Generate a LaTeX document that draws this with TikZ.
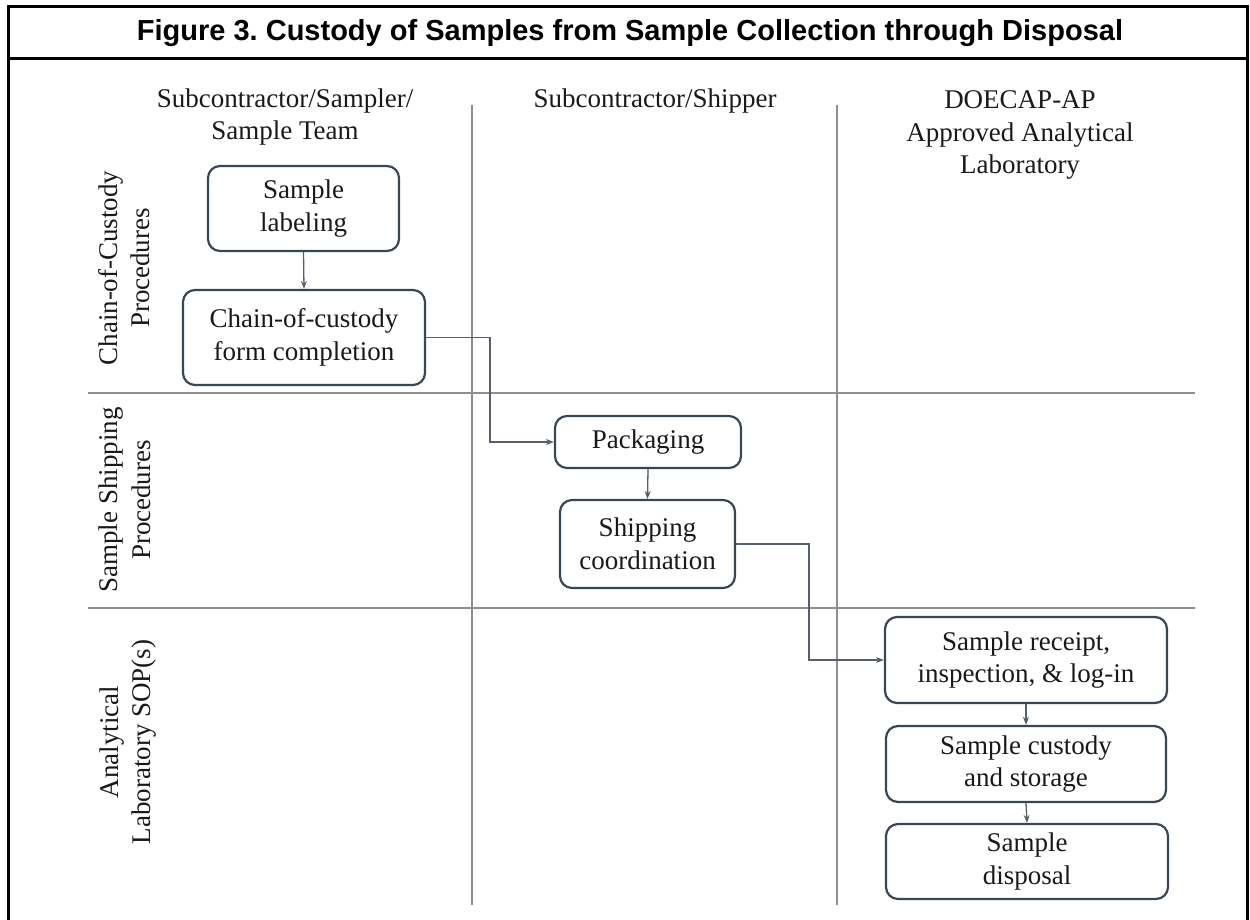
\documentclass[tikz,border=0pt]{standalone}
\usepackage{fontspec}
\setmainfont{Liberation Serif}
\newfontfamily\titlefont{Liberation Sans}
\usetikzlibrary{arrows.meta}
\frenchspacing
\definecolor{boxline}{HTML}{3A4556}
\definecolor{conn}{HTML}{56606C}
\definecolor{gridc}{HTML}{8E8E8E}
\tikzset{
  every node/.style={font=\fontsize{27}{32.5}\selectfont, text=black!90},
  stepbox/.style={draw=boxline, line width=2.2pt, rounded corners=12pt, fill=white,
    align=center, inner sep=0pt, anchor=center},
  lanelabel/.style={align=center, anchor=center},
  conn/.style={draw=conn, line width=1.3pt, -{Stealth[length=8pt,width=6pt]}},
  gridline/.style={draw=gridc, line width=1.4pt},
  frameline/.style={draw=black, line width=3pt}
}
\begin{document}
\begin{tikzpicture}[x=1pt,y=-1pt]
\useasboundingbox (0,0) rectangle (1250,920);
% frame
\draw[frameline] (8,920) -- (8,7) -- (1247,7) -- (1247,920);
\draw[frameline] (8,59) -- (1247,59);
\node[font=\titlefont\bfseries\fontsize{29}{34}\selectfont, text=black] (title) at (630,33) {Figure 3. Custody of Samples from Sample Collection through Disposal};
% grid
\draw[gridline] (88,393) -- (1195,393);
\draw[gridline] (88,608) -- (1195,608);
\draw[gridline] (472,105) -- (472,905);
\draw[gridline] (837,105) -- (837,905);
% column headers
\node[lanelabel] (h1) at (285,117) {Subcontractor/Sampler/\\Sample Team};
\node[lanelabel] (h2) at (655,101) {Subcontractor/Shipper};
\node[lanelabel] (h3) at (1020,135) {DOECAP-AP\\Approved Analytical\\Laboratory};
% row labels
\node[lanelabel, rotate=90] (r1) at (124,268) {Chain-of-Custody\\Procedures};
\node[lanelabel, rotate=90] (r2) at (125,500) {Sample Shipping\\Procedures};
\node[lanelabel, rotate=90] (r3) at (128,742) {Analytical\\Laboratory SOP(s)};
% boxes
\node[stepbox, minimum width=191pt, minimum height=85pt] (lab) at (303.5,208.5) {Sample\\labeling};
\node[stepbox, minimum width=242pt, minimum height=95pt] (coc) at (304,337.5) {Chain-of-custody\\form completion};
\node[stepbox, minimum width=186pt, minimum height=52pt] (pack) at (648,442) {Packaging};
\node[stepbox, minimum width=175pt, minimum height=88pt] (ship) at (647.5,544) {Shipping\\coordination};
\node[stepbox, minimum width=282pt, minimum height=86pt] (rec) at (1026,660) {Sample receipt,\\inspection, \& log-in};
\node[stepbox, minimum width=280pt, minimum height=76pt] (cust) at (1026,764) {Sample custody\\and storage};
\node[stepbox, minimum width=282pt, minimum height=75pt] (disp) at (1027,861.5) {Sample\\disposal};
% junction coordinates
\coordinate (j1) at (490,0);
\coordinate (j2) at (809,0);
% connectors
\draw[conn] (lab.south) -- (coc.north);
\draw[conn] (coc.east) -| (j1 |- pack.west) -- (pack.west);
\draw[conn] (pack.south) -- (ship.north);
\draw[conn] (ship.east) -| (j2 |- rec.west) -- (rec.west);
\draw[conn] (rec.south) -- (cust.north);
\draw[conn] (cust.south) -- (disp.north);
\end{tikzpicture}
\end{document}
